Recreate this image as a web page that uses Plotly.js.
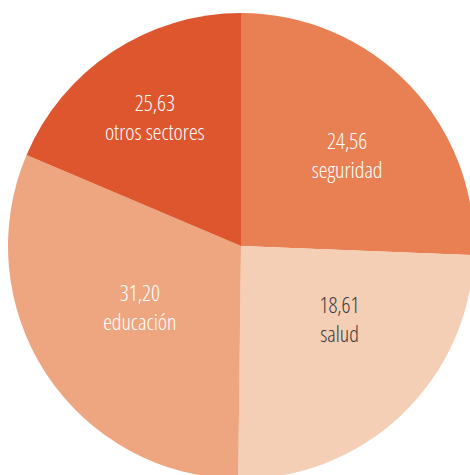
<!DOCTYPE html>
<html>
<head>
<meta charset="utf-8">
<script src="https://cdn.plot.ly/plotly-3.0.1.min.js"></script>
<style>
html,body{margin:0;padding:0;overflow:hidden;background:#fff}
#chart{width:480px;height:485px}
#chart text{font-stretch:75% !important}
</style>
</head>
<body>
<div id="chart"></div>
<script>
// slice sizes as drawn in the picture (clockwise from 12 o'clock)
const sectors = ["seguridad", "salud", "educación", "otros sectores"];
const sliceValues = [25.63, 24.56, 31.20, 18.61];
// numbers printed on each slice
const printedValues = ["24,56", "18,61", "31,20", "25,63"];
const sliceColors = ["#E88053", "#F5CEB6", "#EDA680", "#DE562E"];
const textColors = ["#ffffff", "#3a3a3a", "#ffffff", "#ffffff"];

// label placement (styling): radius in px and angular shift from slice mid-angle
const labelRadius = [135, 127, 122, 149];
const labelShift = [5.5, -7.4, -0.9, -1.6];

const W = 480, H = 485;
const dom = {x: [8 / W, 474 / W], y: [1 - 479 / H, 1 - 13 / H]};
const cx = (dom.x[0] + dom.x[1]) / 2 * W;
const cy = (1 - (dom.y[0] + dom.y[1]) / 2) * H;

const total = sliceValues.reduce((a, b) => a + b, 0);
const font = {family: "'Open Sans', sans-serif", size: 22, weight: 300};
const annotations = [];
let cum = 0;
sliceValues.forEach((v, i) => {
  const mid = (cum + v / 2) / total * 360;
  cum += v;
  const a = (mid + labelShift[i]) * Math.PI / 180;
  const px = cx + labelRadius[i] * Math.sin(a);
  const py = cy - labelRadius[i] * Math.cos(a);
  annotations.push({xref: "paper", yref: "paper", x: px / W, y: 1 - py / H,
    xanchor: "center", yanchor: "middle", showarrow: false, yshift: 8,
    text: printedValues[i] + "<br>" + sectors[i],
    font: Object.assign({}, font, {color: textColors[i]})});
});

Plotly.newPlot("chart", [{
  type: "pie",
  labels: sectors,
  values: sliceValues,
  textinfo: "none",
  sort: false,
  direction: "clockwise",
  rotation: 0,
  marker: {colors: sliceColors, line: {width: 0}},
  domain: dom,
  hoverinfo: "none"
}], {
  width: W, height: H,
  margin: {l: 0, r: 0, t: 0, b: 0},
  showlegend: false,
  paper_bgcolor: "#fff",
  annotations: annotations
}, {displayModeBar: false, staticPlot: true});
</script>
</body>
</html>
